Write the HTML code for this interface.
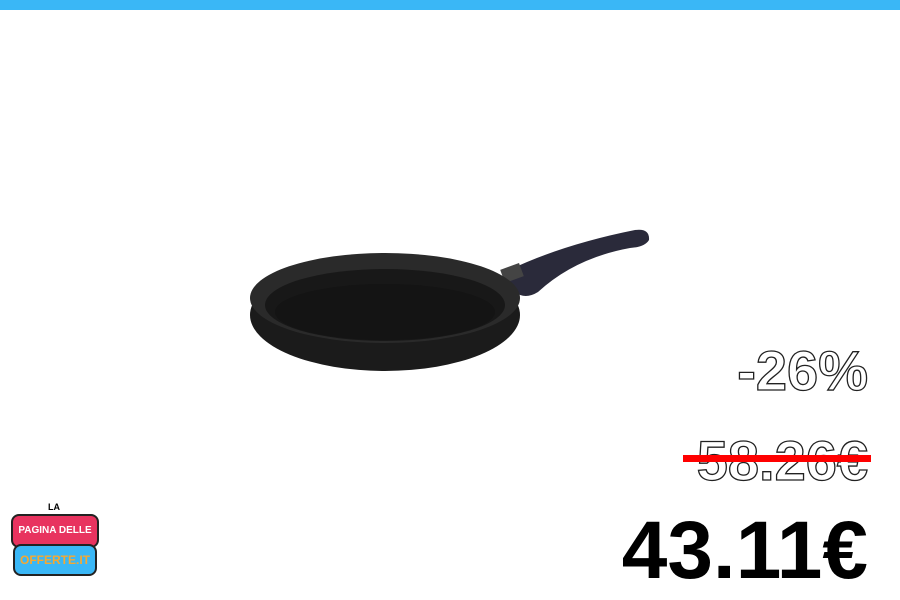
<!DOCTYPE html>
<html><head><meta charset="utf-8"><style>
body{margin:0;width:900px;height:600px;background:#fff;position:relative;overflow:hidden;font-family:"Liberation Sans",sans-serif}
.bar{position:absolute;left:0;top:0;width:900px;height:10px;background:#3ab7f6}
.t{position:absolute;right:32px;font-weight:bold;line-height:1;white-space:nowrap}
.o{color:#fff;-webkit-text-stroke:1.3px #222}
</style></head><body>
<div class="bar"></div>
<svg style="position:absolute;left:0;top:0" width="900" height="600">
<path d="M505 272 Q560 245 635 230 Q650 228 649 240 Q645 247 630 248 Q575 258 538 292 Q525 300 515 292 Z" fill="#2a2a3a"/>
<rect x="502" y="266" width="20" height="14" fill="#444" transform="rotate(-20 512 273)"/>
<ellipse cx="385" cy="315" rx="135" ry="56" fill="#1b1b1b"/>
<ellipse cx="385" cy="298" rx="135" ry="45" fill="#2a2a2a"/>
<ellipse cx="385" cy="305" rx="120" ry="36" fill="#181818"/>
<ellipse cx="385" cy="312" rx="110" ry="28" fill="#141414"/>
</svg>
<div class="t o" style="top:343px;font-size:56px">-26%</div>
<div class="t o" style="top:433px;font-size:56px">58.26€</div>
<div style="position:absolute;left:683px;top:455px;width:188px;height:7px;background:#f00"></div>
<div class="t" style="top:510px;font-size:82px;color:#000;right:32px">43.11€</div>
<div style="position:absolute;left:10px;top:500px;width:90px;height:96px">
<div style="position:absolute;left:1px;top:14px;width:84px;height:30px;background:#e8335f;border:2px solid #222;border-radius:8px;color:#fff;font:bold 10px 'Liberation Sans',sans-serif;text-align:center;line-height:30px;white-space:nowrap">PAGINA DELLE</div>
<div style="position:absolute;left:3px;top:44px;width:80px;height:28px;background:#3ab7f6;border:2px solid #222;border-radius:8px;color:#f7a830;font:bold 12px 'Liberation Sans',sans-serif;text-align:center;line-height:28px">OFFERTE.IT</div>
<div style="position:absolute;left:38px;top:2px;font:bold 9px 'Liberation Sans',sans-serif">LA</div>
</div>
</body></html>
